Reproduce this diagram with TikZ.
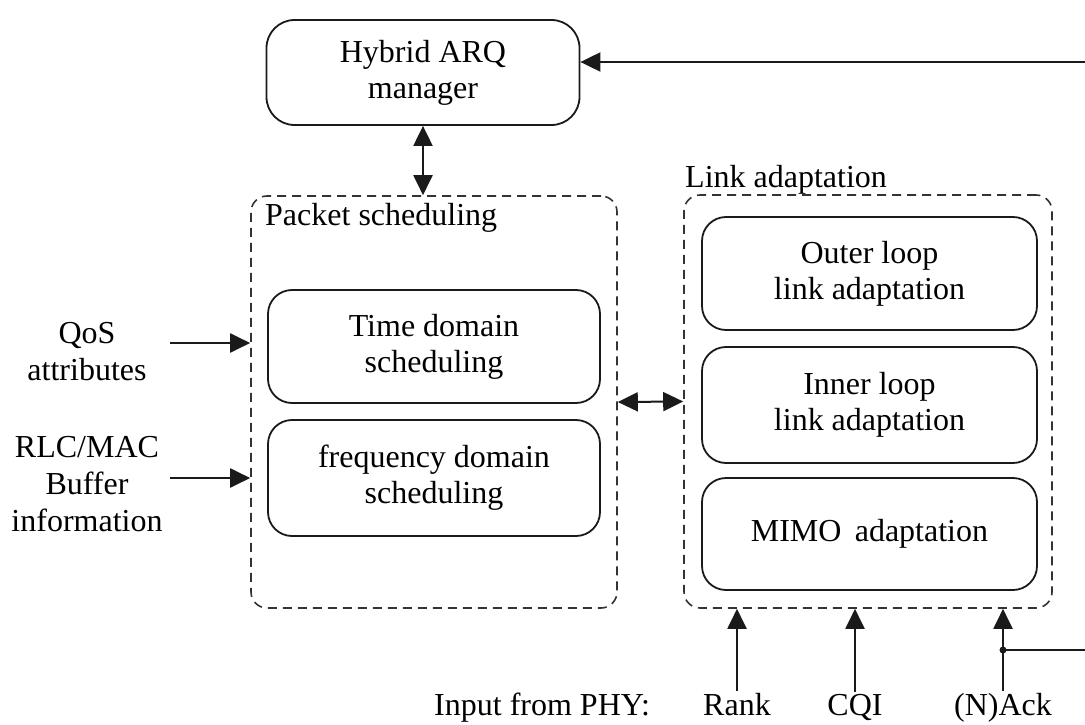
\documentclass[tikz,border=0pt]{standalone}
\usepackage{fontspec}
\setmainfont{Liberation Serif}
\usepackage{tikz}
\usetikzlibrary{
  arrows.meta,
  positioning,
  calc,
}
\definecolor{lineCol}{HTML}{1A1A1A}
\definecolor{dashCol}{HTML}{333333}
\tikzset{
  blockbox/.style={
    rectangle, rounded corners=24pt, draw=lineCol, line width=1.8pt,
    fill=white, inner sep=0pt, align=center,
    font=\fontsize{32}{36}\selectfont,
  },
  groupbox/.style={
    rectangle, rounded corners=16pt, draw=dashCol, line width=1.6pt,
    dash pattern=on 9pt off 6pt, inner sep=0pt,
  },
  plainText/.style={
    inner sep=2pt, align=center, font=\fontsize{32}{37}\selectfont,
  },
  arrowIn/.style={
    -{Triangle[length=20pt,width=19pt]}, line width=2pt, draw=lineCol,
  },
  arrowBoth/.style={
    {Triangle[length=20pt,width=19pt]}-{Triangle[length=20pt,width=19pt]},
    line width=2pt, draw=lineCol,
  },
  feedLine/.style={
    line width=2pt, draw=lineCol,
  },
}

\begin{document}
\begin{tikzpicture}[x=1pt, y=-1pt]
\useasboundingbox (0,0) rectangle (1085,725);

% HARQ manager on top
\node[blockbox, rounded corners=28pt, minimum width=313pt, minimum height=105pt]
      (hybrid) at (423,72.5) {Hybrid ARQ\\manager};

% packet scheduling group
\node[groupbox, minimum width=366pt, minimum height=412pt] (psched) at (434,402) {};
\node[plainText, anchor=base west, inner sep=0pt] (pschedLabel) at (265,225) {Packet scheduling};
\node[blockbox, minimum width=332pt, minimum height=113pt]
      (tdsched) at (434,346.5) {Time domain\\scheduling};
\node[blockbox, minimum width=332pt, minimum height=116pt]
      (fdsched) at (434,478) {frequency domain\\scheduling};

% link adaptation group
\node[groupbox, minimum width=368pt, minimum height=413pt] (linkad) at (868,401.5) {};
\node[plainText, anchor=base west, inner sep=0pt] (linkLabel) at (685,187) {Link adaptation};
\node[blockbox, minimum width=335pt, minimum height=113pt]
      (outer) at (869.5,273.5) {Outer loop\\link adaptation};
\node[blockbox, minimum width=335pt, minimum height=116pt]
      (inner) at (869.5,405) {Inner loop\\link adaptation};
\node[blockbox, minimum width=335pt, minimum height=112pt]
      (mimo) at (869.5,534) {MIMO\, adaptation};

% inputs on the left
\node[plainText] (qos) at (87,352) {QoS\\attributes};
\node[plainText] (rlcmac) at (87,484) {RLC/MAC\\Buffer\\information};
\coordinate (qosIn) at (170,343);
\coordinate (rlcIn) at (170,478);

% inputs from PHY
\node[plainText, anchor=base west, inner sep=0pt] (phyLabel) at (434,715) {Input from PHY:};
\node[plainText, anchor=base] (rank) at (737,715) {Rank};
\node[plainText, anchor=base] (cqi) at (855,715) {CQI};
\node[plainText, anchor=base] (nack) at (1003,715) {(N)Ack};
\coordinate (ackTap) at (1003,650);
\coordinate (ackOut) at (1085,650);
\coordinate (harqIn) at (1085,62);

\draw[arrowIn] (qosIn) -- (qosIn -| psched.west);
\draw[arrowIn] (rlcIn) -- (rlcIn -| psched.west);
\draw[arrowBoth] (hybrid.south) -- (hybrid.south |- psched.north);
\draw[arrowBoth] (psched.east) -- (linkad.west);
\draw[arrowIn] (rank.north) -- (rank.north |- linkad.south);
\draw[arrowIn] (cqi.north) -- (cqi.north |- linkad.south);
\draw[arrowIn] (nack.north) -- (nack.north |- linkad.south);
\draw[arrowIn] (harqIn) -- (harqIn -| hybrid.east);
\draw[feedLine] (ackTap) -- (ackOut);
\fill[lineCol] (ackTap) circle (3.5pt);

\end{tikzpicture}
\end{document}
